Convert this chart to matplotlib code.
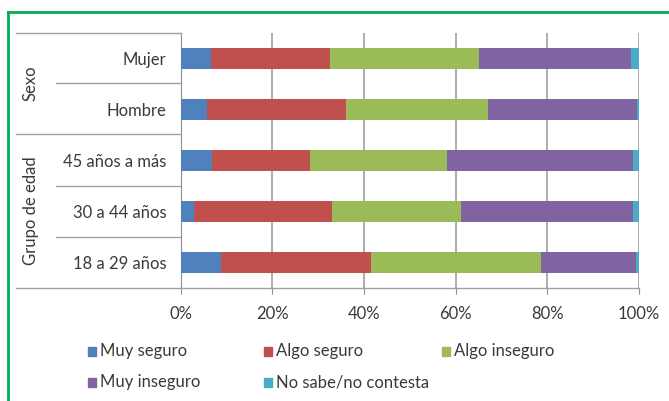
import matplotlib
matplotlib.use("Agg")
import matplotlib.pyplot as plt
from matplotlib.lines import Line2D

categories = ["Mujer", "Hombre", "45 años a más", "30 a 44 años", "18 a 29 años"]
groups = ["Sexo", "Grupo de edad"]
series_names = ["Muy seguro", "Algo seguro", "Algo inseguro", "Muy inseguro", "No sabe/no contesta"]
muy_seguro = [6.7, 5.8, 6.9, 2.9, 8.8]
algo_seguro = [25.9, 30.4, 21.3, 30.1, 32.7]
algo_inseguro = [32.5, 30.8, 29.9, 28.2, 37.2]
muy_inseguro = [33.2, 32.6, 40.5, 37.4, 20.6]
no_sabe = [1.7, 0.4, 1.4, 1.4, 0.7]
xticks = [0, 20, 40, 60, 80, 100]
xtick_labels = ["0%", "20%", "40%", "60%", "80%", "100%"]

colors = ["#4F81BD", "#C0504D", "#9BBB59", "#8064A2", "#4BACC6"]
plt.rcParams['font.family'] = ['Lato', 'DejaVu Sans']
FS = 12
TC = "#3A3A3A"

W, H = 669, 401
fig = plt.figure(figsize=(W / 100, H / 100), dpi=100)

def fx(px):
    return px / W

def fy(py):
    return 1 - py / H

x0, x1, y0, y1 = 180.5, 639, 33, 288
ax = fig.add_axes([fx(x0), fy(y1), fx(x1) - fx(x0), fy(y0) - fy(y1)])

n = len(categories)
ypos = [n - 1 - i for i in range(n)]
series = [muy_seguro, algo_seguro, algo_inseguro, muy_inseguro, no_sabe]
left = [0.0] * n
for vals, col, name in zip(series, colors, series_names):
    ax.barh(ypos, vals, left=left, height=0.41, color=col, label=name, zorder=3)
    left = [l + v for l, v in zip(left, vals)]

ax.set_xlim(0, 100)
ax.set_ylim(-0.5, n - 0.5)
ax.set_xticks(xticks)
ax.set_xticklabels(xtick_labels, fontsize=FS, color=TC)
ax.set_yticks(ypos)
ax.set_yticklabels(categories, fontsize=FS, color=TC)
ax.tick_params(axis="y", length=0, pad=10)
ax.tick_params(axis="x", length=4, direction="out", color="#909090", pad=9)
ax.xaxis.grid(True, color="#A0A0A0", linewidth=1.2, zorder=0)
for s in ["top", "right", "bottom"]:
    ax.spines[s].set_visible(False)
ax.spines["left"].set_color("#909090")

# bottom axis line and category separators (figure coords)
line_col = "#A0A0A0"
fig.add_artist(Line2D([fx(16), fx(x1)], [fy(y1), fy(y1)], color=line_col, lw=1))
fig.add_artist(Line2D([fx(16), fx(x0)], [fy(y0), fy(y0)], color=line_col, lw=1))
fig.add_artist(Line2D([fx(16), fx(x0)], [fy(134), fy(134)], color=line_col, lw=1))
for yy in [83, 186, 237]:
    fig.add_artist(Line2D([fx(56), fx(x0)], [fy(yy), fy(yy)], color=line_col, lw=1))

# group labels
fig.text(fx(31), fy(83), groups[0], rotation=90, ha="center", va="center", fontsize=FS, color=TC)
fig.text(fx(31), fy(211), groups[1], rotation=90, ha="center", va="center", fontsize=FS, color=TC)

# green frame
green = "#00B050"
fig.add_artist(Line2D([fx(7.5), fx(7.5)], [fy(12), 0], color=green, lw=2))
fig.add_artist(Line2D([fx(7.5), 1], [fy(12), fy(12)], color=green, lw=2))

# legend
leg_pos = [(88, 351), (264, 351), (442, 351), (88, 382), (264, 382)]
for (px, py), name, c in zip(leg_pos, series_names, colors):
    fig.add_artist(plt.Rectangle((fx(px), fy(py + 4.5)), 8 / W, 9 / H, color=c, transform=fig.transFigure))
    fig.text(fx(px + 12), fy(py), name, ha="left", va="center", fontsize=FS, color=TC)

fig.savefig("out.png", dpi=100)
